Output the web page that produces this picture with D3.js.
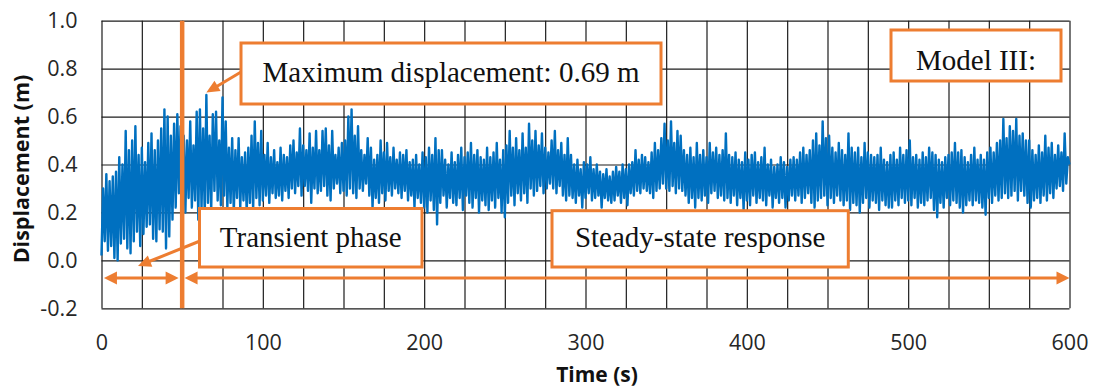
<!DOCTYPE html>
<html><head><meta charset="utf-8">
<script src="https://cdn.jsdelivr.net/npm/d3@7"></script>
<style>html,body{margin:0;padding:0;background:#fff;} svg{display:block}</style>
</head><body><svg id="c" width="1096" height="388"></svg>
<script>
// ---------- data ----------
const xTicks = [0, 100, 200, 300, 400, 500, 600];
const xGridLines = [0, 25, 50, 75, 100, 125, 150, 175, 200, 225, 250, 275, 300, 325, 350, 375, 400, 425, 450, 475, 500, 525, 550, 575, 600];
const yTicks = [-0.2, 0.0, 0.2, 0.4, 0.6, 0.8, 1.0];
const sampleStep = 1; // seconds between samples
// displacement (m), one value per second, t = 0 ... 600
const displacement = [
 .02,.30,.08,.36,.04,.33,.06,.35,.01,.37,
 .00,.43,.07,.40,.09,.54,.05,.46,.03,.50,
 .08,.56,.12,.44,.06,.47,.11,.41,.14,.49,
 .15,.53,.09,.46,.08,.50,.13,.55,.12,.63,
 .05,.60,.10,.52,.17,.57,.22,.61,.28,.56,
 .24,.52,.20,.50,.26,.58,.22,.48,.25,.62,
 .17,.63,.22,.55,.19,.69,.24,.52,.21,.61,
 .29,.62,.25,.50,.23,.68,.27,.58,.22,.47,
 .24,.51,.20,.46,.26,.51,.22,.43,.25,.45,
 .20,.47,.24,.52,.21,.58,.26,.49,.23,.54,
 .25,.44,.27,.49,.24,.43,.28,.46,.26,.41,
 .27,.47,.25,.44,.29,.43,.26,.48,.30,.50,
 .28,.45,.31,.55,.27,.48,.31,.46,.29,.53,
 .24,.47,.30,.54,.28,.46,.29,.54,.31,.55,
 .27,.48,.25,.54,.30,.44,.32,.47,.28,.49,
 .29,.50,.27,.60,.30,.63,.28,.52,.26,.56,
 .30,.46,.29,.44,.32,.51,.27,.47,.22,.42,
 .26,.44,.24,.50,.28,.45,.25,.49,.29,.43,
 .27,.47,.30,.42,.28,.45,.26,.44,.29,.46,
 .25,.41,.27,.42,.22,.44,.26,.40,.24,.45,
 .22,.43,.20,.47,.25,.44,.21,.51,.15,.46,
 .24,.46,.27,.42,.22,.40,.26,.45,.24,.41,
 .23,.44,.26,.47,.21,.43,.27,.45,.24,.49,
 .22,.44,.26,.46,.20,.43,.25,.42,.23,.47,
 .21,.43,.25,.45,.22,.49,.26,.42,.20,.46,
 .18,.48,.24,.54,.27,.47,.23,.51,.28,.46,
 .25,.53,.28,.47,.24,.57,.30,.50,.27,.54,
 .29,.48,.31,.53,.28,.47,.30,.45,.32,.50,
 .30,.54,.28,.46,.31,.49,.27,.44,.25,.51,
 .27,.44,.26,.40,.24,.42,.27,.38,.22,.41,
 .26,.40,.28,.43,.25,.38,.26,.40,.27,.37,
 .22,.36,.26,.38,.25,.35,.24,.37,.25,.39,
 .27,.37,.24,.40,.26,.38,.23,.40,.28,.41,
 .27,.46,.29,.42,.28,.44,.30,.43,.29,.41,
 .28,.45,.26,.49,.29,.46,.30,.51,.32,.57,
 .30,.50,.29,.58,.31,.49,.28,.54,.30,.52,
 .29,.46,.27,.44,.24,.47,.26,.43,.22,.49,
 .26,.44,.25,.46,.27,.43,.24,.49,.28,.45,
 .29,.47,.26,.44,.27,.46,.25,.53,.26,.44,
 .24,.43,.27,.45,.23,.42,.26,.41,.21,.45,
 .25,.42,.23,.44,.27,.45,.24,.41,.26,.43,
 .25,.47,.23,.40,.27,.42,.22,.39,.26,.40,
 .24,.43,.26,.41,.22,.39,.25,.42,.27,.43,
 .25,.42,.27,.45,.24,.47,.26,.44,.28,.46,
 .24,.50,.22,.53,.25,.48,.26,.58,.27,.51,
 .23,.52,.26,.47,.24,.45,.27,.49,.25,.46,
 .23,.44,.25,.53,.21,.47,.24,.45,.23,.47,
 .20,.43,.24,.49,.26,.45,.22,.44,.25,.43,
 .24,.44,.21,.47,.25,.42,.23,.41,.22,.44,
 .22,.45,.25,.42,.23,.47,.26,.44,.24,.46,
 .25,.50,.23,.43,.26,.44,.22,.42,.24,.45,
 .23,.43,.25,.47,.26,.45,.21,.44,.18,.42,
 .24,.41,.22,.43,.26,.44,.23,.45,.25,.49,
 .24,.45,.22,.46,.20,.43,.23,.41,.25,.44,
 .23,.47,.25,.42,.24,.44,.22,.42,.19,.45,
 .26,.47,.24,.45,.27,.49,.25,.50,.26,.59,
 .28,.51,.26,.56,.27,.54,.29,.59,.25,.52,
 .29,.53,.27,.50,.24,.50,.22,.46,.25,.44,
 .26,.48,.24,.45,.27,.52,.25,.47,.28,.49,
 .26,.44,.30,.48,.31,.45,.29,.53,.32,.43,
 .40
];
const transientEndTime = 50;           // s
const maxDisplacementTime = 65;        // s
const maxDisplacementValue = 0.69;     // m
const labelMax = "Maximum displacement: 0.69 m";
const labelModel = "Model III:";
const labelTransient = "Transient phase";
const labelSteady = "Steady-state response";
const xTitle = "Time (s)";
const yTitle = "Displacement (m)";

// ---------- layout ----------
const X0 = 101.5, X1 = 1069.5, YT = 20.7, YB = 308.3;
const ORANGE = "#ED7D31", BLUE = "#0070C0", GRID = "#1c1c1c";
const svg = d3.select("#c");
const x = d3.scaleLinear().domain([0, 600]).range([X0, X1]);
const y = d3.scaleLinear().domain([-0.2, 1.0]).range([YB, YT]);

// grid
const gx = svg.append("g").attr("transform", `translate(0,${YB})`)
  .call(d3.axisBottom(x).tickValues(xGridLines).tickSize(-(YB - YT)).tickFormat(""));
gx.select(".domain").remove();
gx.selectAll("line").attr("stroke", GRID).attr("stroke-width", 1.2);
const gy = svg.append("g").attr("transform", `translate(${X0},0)`)
  .call(d3.axisLeft(y).tickValues(yTicks).tickSize(-(X1 - X0)).tickFormat(""));
gy.select(".domain").remove();
gy.selectAll("line").attr("stroke", GRID).attr("stroke-width", 1.2);

// tick labels
const fmt = v => v.toFixed(1);
const ax = svg.append("g").attr("transform", `translate(0,${YB})`)
  .call(d3.axisBottom(x).tickValues(xTicks).tickSize(0).tickPadding(26).tickFormat(d3.format("d")));
ax.select(".domain").remove();
ax.selectAll("text").attr("font-family", "'Open Sans', sans-serif").attr("font-size", 21.5).attr("fill", "#262626");
const ay = svg.append("g").attr("transform", `translate(${X0},0)`)
  .call(d3.axisLeft(y).tickValues(yTicks).tickSize(0).tickPadding(24).tickFormat(fmt));
ay.select(".domain").remove();
ay.selectAll("text").attr("font-family", "'Open Sans', sans-serif").attr("font-size", 21.5).attr("fill", "#262626");

// titles
svg.append("text").attr("x", 597).attr("y", 382).attr("text-anchor", "middle")
  .attr("font-family", "'Open Sans', sans-serif").attr("font-weight", "bold").attr("font-size", 21)
  .attr("fill", "#111").text(xTitle);
svg.append("text").attr("transform", `translate(29,169) rotate(-90)`).attr("text-anchor", "middle")
  .attr("font-family", "'Open Sans', sans-serif").attr("font-weight", "bold").attr("font-size", 21.5)
  .attr("fill", "#111").text(yTitle);

// data line
const line = d3.line().x((d, i) => x(i * sampleStep)).y(d => y(d));
svg.append("path").datum(displacement).attr("d", line)
  .attr("fill", "none").attr("stroke", BLUE).attr("stroke-width", 2.4).attr("stroke-linejoin", "round");

// orange vertical separator
svg.append("line").attr("x1", x(transientEndTime)).attr("x2", x(transientEndTime))
  .attr("y1", YT).attr("y2", YB).attr("stroke", ORANGE).attr("stroke-width", 4.5);

// arrow helper
function arrow(x1, y1, x2, y2, startHead, endHead, hl = 13, hw = 13, sw = 3) {
  const dx = x2 - x1, dy = y2 - y1, L = Math.hypot(dx, dy), ux = dx / L, uy = dy / L;
  const px = -uy, py = ux;
  const sx = startHead ? x1 + ux * (hl - 1) : x1, sy = startHead ? y1 + uy * (hl - 1) : y1;
  const ex = endHead ? x2 - ux * (hl - 1) : x2, ey = endHead ? y2 - uy * (hl - 1) : y2;
  svg.append("line").attr("x1", sx).attr("y1", sy).attr("x2", ex).attr("y2", ey)
    .attr("stroke", ORANGE).attr("stroke-width", sw);
  const head = (tx, ty, dirx, diry) => {
    const bx = tx - dirx * hl, by = ty - diry * hl;
    svg.append("path").attr("d", `M${tx},${ty}L${bx + px * hw / 2},${by + py * hw / 2}L${bx - px * hw / 2},${by - py * hw / 2}Z`)
      .attr("fill", ORANGE);
  };
  if (endHead) head(x2, y2, ux, uy);
  if (startHead) head(x1, y1, -ux, -uy);
}

// phase arrows
const arrowLevel = -0.074;
arrow(x(1.5), y(arrowLevel), x(47.8), y(arrowLevel), true, true);
arrow(x(51.5), y(arrowLevel), x(600), y(arrowLevel), true, true);

// callout arrows
arrow(241, 72, x(maxDisplacementTime), y(maxDisplacementValue + 0.01), false, true, 13, 12, 3);
arrow(200, 241, 138, 266, false, true, 13, 12, 3);

// boxes
function box(x0, y0, x1, y1, label, baseline) {
  svg.append("rect").attr("x", x0).attr("y", y0).attr("width", x1 - x0).attr("height", y1 - y0)
    .attr("fill", "#fff").attr("stroke", ORANGE).attr("stroke-width", 3);
  svg.append("text").attr("x", (x0 + x1) / 2).attr("y", baseline).attr("text-anchor", "middle")
    .attr("font-family", "'Liberation Serif', 'Times New Roman', serif").attr("font-size", 29)
    .attr("fill", "#111").text(label);
}
box(241, 43, 661, 104, labelMax, 82);
box(891, 30, 1061, 81, labelModel, 69.5);
box(199.5, 208.5, 422, 267, labelTransient, 246.7);
box(552, 210.7, 848.3, 267, labelSteady, 246.7);
</script></body></html>
